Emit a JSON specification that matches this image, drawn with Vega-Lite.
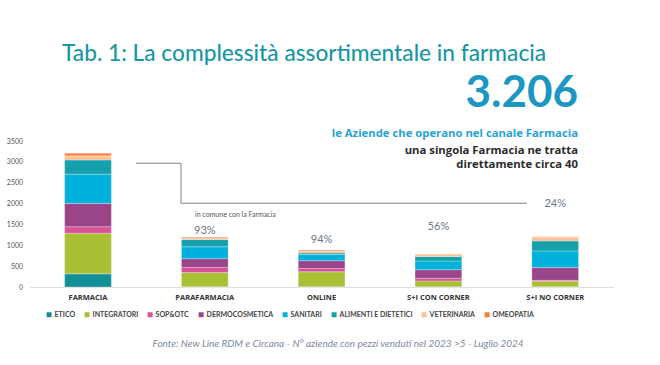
{
  "$schema": "https://vega.github.io/schema/vega-lite/v6.json",
  "width": 584,
  "height": 146,
  "autosize": "none",
  "padding": {"left": 29.6, "top": 141, "right": 46.4, "bottom": 78},
  "background": "white",
  "config": {"view": {"stroke": null}, "font": "Lato", "axisY": {"labelOverlap": false}},
  "resolve": {"scale": {"x": "independent"}, "axis": {"x": "independent"}},
  "layer": [
    {
      "data": {"values": [
        {"canale": "FARMACIA", "categoria": "ETICO", "k": 1, "aziende": 315},
        {"canale": "FARMACIA", "categoria": "INTEGRATORI", "k": 2, "aziende": 975},
        {"canale": "FARMACIA", "categoria": "SOP&OTC", "k": 3, "aziende": 155},
        {"canale": "FARMACIA", "categoria": "DERMOCOSMETICA", "k": 4, "aziende": 555},
        {"canale": "FARMACIA", "categoria": "SANITARI", "k": 5, "aziende": 705},
        {"canale": "FARMACIA", "categoria": "ALIMENTI E DIETETICI", "k": 6, "aziende": 340},
        {"canale": "FARMACIA", "categoria": "VETERINARIA", "k": 7, "aziende": 100},
        {"canale": "FARMACIA", "categoria": "OMEOPATIA", "k": 8, "aziende": 61},
        {"canale": "PARAFARMACIA", "categoria": "ETICO", "k": 1, "aziende": 5},
        {"canale": "PARAFARMACIA", "categoria": "INTEGRATORI", "k": 2, "aziende": 340},
        {"canale": "PARAFARMACIA", "categoria": "SOP&OTC", "k": 3, "aziende": 125},
        {"canale": "PARAFARMACIA", "categoria": "DERMOCOSMETICA", "k": 4, "aziende": 210},
        {"canale": "PARAFARMACIA", "categoria": "SANITARI", "k": 5, "aziende": 285},
        {"canale": "PARAFARMACIA", "categoria": "ALIMENTI E DIETETICI", "k": 6, "aziende": 175},
        {"canale": "PARAFARMACIA", "categoria": "VETERINARIA", "k": 7, "aziende": 40},
        {"canale": "PARAFARMACIA", "categoria": "OMEOPATIA", "k": 8, "aziende": 20},
        {"canale": "ONLINE", "categoria": "ETICO", "k": 1, "aziende": 5},
        {"canale": "ONLINE", "categoria": "INTEGRATORI", "k": 2, "aziende": 360},
        {"canale": "ONLINE", "categoria": "SOP&OTC", "k": 3, "aziende": 80},
        {"canale": "ONLINE", "categoria": "DERMOCOSMETICA", "k": 4, "aziende": 185},
        {"canale": "ONLINE", "categoria": "SANITARI", "k": 5, "aziende": 150},
        {"canale": "ONLINE", "categoria": "ALIMENTI E DIETETICI", "k": 6, "aziende": 35},
        {"canale": "ONLINE", "categoria": "VETERINARIA", "k": 7, "aziende": 45},
        {"canale": "ONLINE", "categoria": "OMEOPATIA", "k": 8, "aziende": 20},
        {"canale": "S+I CON CORNER", "categoria": "ETICO", "k": 1, "aziende": 5},
        {"canale": "S+I CON CORNER", "categoria": "INTEGRATORI", "k": 2, "aziende": 140},
        {"canale": "S+I CON CORNER", "categoria": "SOP&OTC", "k": 3, "aziende": 65},
        {"canale": "S+I CON CORNER", "categoria": "DERMOCOSMETICA", "k": 4, "aziende": 205},
        {"canale": "S+I CON CORNER", "categoria": "SANITARI", "k": 5, "aziende": 210},
        {"canale": "S+I CON CORNER", "categoria": "ALIMENTI E DIETETICI", "k": 6, "aziende": 105},
        {"canale": "S+I CON CORNER", "categoria": "VETERINARIA", "k": 7, "aziende": 50},
        {"canale": "S+I CON CORNER", "categoria": "OMEOPATIA", "k": 8, "aziende": 10},
        {"canale": "S+I NO CORNER", "categoria": "ETICO", "k": 1, "aziende": 5},
        {"canale": "S+I NO CORNER", "categoria": "INTEGRATORI", "k": 2, "aziende": 135},
        {"canale": "S+I NO CORNER", "categoria": "SOP&OTC", "k": 3, "aziende": 20},
        {"canale": "S+I NO CORNER", "categoria": "DERMOCOSMETICA", "k": 4, "aziende": 305},
        {"canale": "S+I NO CORNER", "categoria": "SANITARI", "k": 5, "aziende": 400},
        {"canale": "S+I NO CORNER", "categoria": "ALIMENTI E DIETETICI", "k": 6, "aziende": 240},
        {"canale": "S+I NO CORNER", "categoria": "VETERINARIA", "k": 7, "aziende": 95},
        {"canale": "S+I NO CORNER", "categoria": "OMEOPATIA", "k": 8, "aziende": 5}
      ]},
      "mark": {"type": "bar", "stroke": "white", "strokeWidth": 0.4, "strokeOpacity": 0.7},
      "encoding": {
        "x": {"field": "canale", "type": "nominal",
          "sort": ["FARMACIA", "PARAFARMACIA", "ONLINE", "S+I CON CORNER", "S+I NO CORNER"],
          "scale": {"paddingInner": 0.6, "paddingOuter": 0.3},
          "axis": {"title": "Fonte: New Line RDM e Circana - N° aziende con pezzi venduti nel 2023 >5 - Luglio 2024",
            "titleFontStyle": "italic", "titleFontWeight": "normal", "titleFontSize": 10, "titleColor": "#7d8b9c",
            "titleX": 308, "titleY": 56, "titleAlign": "center", "titleBaseline": "middle", "titleFont": "Lato",
            "labelAngle": 0, "labelFontSize": 7.5, "labelFontWeight": "bold", "labelColor": "#333333", "labelFont": "Open Sans",
            "labelPadding": 6, "ticks": false, "domainColor": "#dddddd", "domainWidth": 1}},
        "y": {"field": "aziende", "type": "quantitative", "stack": "zero",
          "scale": {"domain": [0, 3500], "nice": false},
          "axis": {"title": null, "values": [0, 500, 1000, 1500, 2000, 2500, 3000, 3500], "format": "d", "labelOverlap": false,
            "grid": false, "domain": false, "ticks": false, "labelFontSize": 7, "labelColor": "#555555", "labelPadding": 7}},
        "order": {"field": "k", "sort": "ascending"},
        "color": {"field": "categoria", "type": "nominal",
          "sort": ["ETICO", "INTEGRATORI", "SOP&OTC", "DERMOCOSMETICA", "SANITARI", "ALIMENTI E DIETETICI", "VETERINARIA", "OMEOPATIA"],
          "scale": {"domain": ["ETICO", "INTEGRATORI", "SOP&OTC", "DERMOCOSMETICA", "SANITARI", "ALIMENTI E DIETETICI", "VETERINARIA", "OMEOPATIA"],
            "range": ["#12909a", "#a9bf34", "#d95299", "#9a4489", "#00b1db", "#16a0ab", "#fcc194", "#f07e3a"]},
          "legend": {"title": null, "orient": "none", "legendX": 16, "legendY": 170, "direction": "horizontal", "columns": 8,
            "symbolType": "square", "symbolSize": 25, "symbolStrokeWidth": 0, "labelFontSize": 7, "labelFontWeight": "bold",
            "labelColor": "#444444", "labelOffset": 2, "columnPadding": 8}}
      }
    },
    {
      "data": {"values": [
        {"o": 1, "px": 0.911, "py": 2966},
        {"o": 2, "px": 1.296, "py": 2966},
        {"o": 3, "px": 1.296, "py": 2007},
        {"o": 4, "px": 4.258, "py": 2007}
      ]},
      "mark": {"type": "line", "color": "#7b8794", "strokeWidth": 1},
      "encoding": {
        "x": {"field": "px", "type": "quantitative", "scale": {"domain": [0, 5], "nice": false, "zero": false}, "axis": null},
        "y": {"field": "py", "type": "quantitative", "scale": {"domain": [0, 3500], "nice": false},
          "axis": {"title": null, "values": [0, 500, 1000, 1500, 2000, 2500, 3000, 3500], "format": "d", "labelOverlap": false,
            "grid": false, "domain": false, "ticks": false, "labelFontSize": 7, "labelColor": "#555555", "labelPadding": 7}},
        "order": {"field": "o"}
      }
    },
    {
      "data": {"values": [{"txt": "Tab. 1: La complessità assortimentale in farmacia", "px": 0.277, "py": 5418}]},
      "mark": {"type": "text", "align": "left", "baseline": "alphabetic", "fontSize": 22.7, "font": "Lato", "fontWeight": 500, "color": "#1a97a3"},
      "encoding": {
        "x": {"field": "px", "type": "quantitative", "scale": {"domain": [0, 5], "nice": false, "zero": false}, "axis": null},
        "y": {"field": "py", "type": "quantitative", "scale": {"domain": [0, 3500], "nice": false},
          "axis": {"title": null, "values": [0, 500, 1000, 1500, 2000, 2500, 3000, 3500], "format": "d", "labelOverlap": false,
            "grid": false, "domain": false, "ticks": false, "labelFontSize": 7, "labelColor": "#555555", "labelPadding": 7}},
        "text": {"field": "txt"}
      }
    },
    {
      "data": {"values": [{"txt": "3.206", "px": 4.695, "py": 4315}]},
      "mark": {"type": "text", "align": "right", "baseline": "alphabetic", "fontSize": 44, "fontWeight": "bold", "color": "#1b97c1"},
      "encoding": {
        "x": {"field": "px", "type": "quantitative", "scale": {"domain": [0, 5], "nice": false, "zero": false}, "axis": null},
        "y": {"field": "py", "type": "quantitative", "scale": {"domain": [0, 3500], "nice": false},
          "axis": {"title": null, "values": [0, 500, 1000, 1500, 2000, 2500, 3000, 3500], "format": "d", "labelOverlap": false,
            "grid": false, "domain": false, "ticks": false, "labelFontSize": 7, "labelColor": "#555555", "labelPadding": 7}},
        "text": {"field": "txt"}
      }
    },
    {
      "data": {"values": [{"txt": "le Aziende che operano nel canale Farmacia", "px": 4.695, "py": 3668}]},
      "mark": {"type": "text", "align": "right", "baseline": "middle", "fontSize": 11.3, "font": "Open Sans", "fontWeight": "bold", "color": "#27a2d3"},
      "encoding": {
        "x": {"field": "px", "type": "quantitative", "scale": {"domain": [0, 5], "nice": false, "zero": false}, "axis": null},
        "y": {"field": "py", "type": "quantitative", "scale": {"domain": [0, 3500], "nice": false},
          "axis": {"title": null, "values": [0, 500, 1000, 1500, 2000, 2500, 3000, 3500], "format": "d", "labelOverlap": false,
            "grid": false, "domain": false, "ticks": false, "labelFontSize": 7, "labelColor": "#555555", "labelPadding": 7}},
        "text": {"field": "txt"}
      }
    },
    {
      "data": {"values": [
        {"txt": "una singola Farmacia ne tratta", "px": 4.695, "py": 3268},
        {"txt": "direttamente circa 40", "px": 4.695, "py": 2925}
      ]},
      "mark": {"type": "text", "align": "right", "baseline": "middle", "fontSize": 11.3, "font": "Open Sans", "fontWeight": "bold", "color": "#2b2b2b"},
      "encoding": {
        "x": {"field": "px", "type": "quantitative", "scale": {"domain": [0, 5], "nice": false, "zero": false}, "axis": null},
        "y": {"field": "py", "type": "quantitative", "scale": {"domain": [0, 3500], "nice": false},
          "axis": {"title": null, "values": [0, 500, 1000, 1500, 2000, 2500, 3000, 3500], "format": "d", "labelOverlap": false,
            "grid": false, "domain": false, "ticks": false, "labelFontSize": 7, "labelColor": "#555555", "labelPadding": 7}},
        "text": {"field": "txt"}
      }
    },
    {
      "data": {"values": [
        {"txt": "93%", "px": 1.5, "py": 1343},
        {"txt": "94%", "px": 2.5, "py": 1127},
        {"txt": "56%", "px": 3.5, "py": 1438},
        {"txt": "24%", "px": 4.5, "py": 1978}
      ]},
      "mark": {"type": "text", "align": "center", "baseline": "middle", "fontSize": 11, "color": "#6b7683"},
      "encoding": {
        "x": {"field": "px", "type": "quantitative", "scale": {"domain": [0, 5], "nice": false, "zero": false}, "axis": null},
        "y": {"field": "py", "type": "quantitative", "scale": {"domain": [0, 3500], "nice": false},
          "axis": {"title": null, "values": [0, 500, 1000, 1500, 2000, 2500, 3000, 3500], "format": "d", "labelOverlap": false,
            "grid": false, "domain": false, "ticks": false, "labelFontSize": 7, "labelColor": "#555555", "labelPadding": 7}},
        "text": {"field": "txt"}
      }
    },
    {
      "data": {"values": [{"txt": "in comune con la Farmacia", "px": 1.416, "py": 1738}]},
      "mark": {"type": "text", "align": "left", "baseline": "middle", "fontSize": 7, "color": "#555555"},
      "encoding": {
        "x": {"field": "px", "type": "quantitative", "scale": {"domain": [0, 5], "nice": false, "zero": false}, "axis": null},
        "y": {"field": "py", "type": "quantitative", "scale": {"domain": [0, 3500], "nice": false},
          "axis": {"title": null, "values": [0, 500, 1000, 1500, 2000, 2500, 3000, 3500], "format": "d", "labelOverlap": false,
            "grid": false, "domain": false, "ticks": false, "labelFontSize": 7, "labelColor": "#555555", "labelPadding": 7}},
        "text": {"field": "txt"}
      }
    }
  ]
}
